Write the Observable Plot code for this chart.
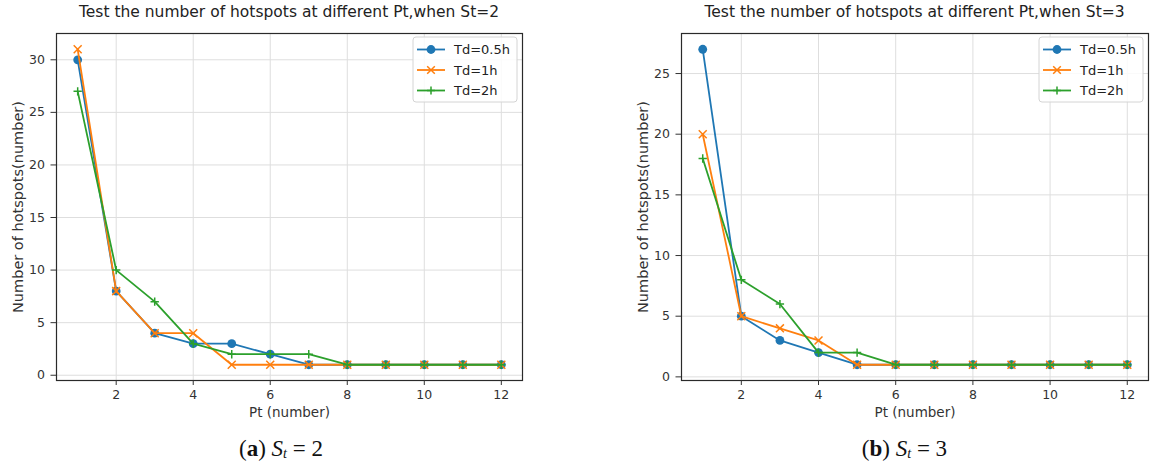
<!DOCTYPE html>
<html>
<head>
<meta charset="utf-8">
<script src="https://cdn.jsdelivr.net/npm/d3@7"></script>
<script src="https://cdn.jsdelivr.net/npm/@observablehq/plot@0.6"></script>
<style>
  html, body { margin: 0; padding: 0; background: #fff; }
  #root { position: relative; width: 1150px; height: 468px; overflow: hidden; background: #fff; font-family: "DejaVu Sans", sans-serif; }
  .panel { position: absolute; top: 0; }
  .title { position: absolute; top: 3px; font-size: 15.5px; color: #222; white-space: nowrap; transform: translateX(-50%); }
  .caption { position: absolute; top: 436px; font-family: "Liberation Serif", "DejaVu Serif", serif; font-size: 23px; line-height: 26px; color: #111; white-space: nowrap; transform: translateX(-50%); }
  .caption i sub { font-size: 14px; vertical-align: -2px; }
</style>
</head>
<body>
<div id="root"></div>
<script>
// ---- data ----
const pt = [1, 2, 3, 4, 5, 6, 7, 8, 9, 10, 11, 12];
const seriesNames = ["Td=0.5h", "Td=1h", "Td=2h"];
const colors = ["#1f77b4", "#ff7f0e", "#2ca02c"];
const symbols = ["circle", "times", "plus"];

// St = 2
const st2_td05 = [30, 8, 4, 3, 3, 2, 1, 1, 1, 1, 1, 1];
const st2_td1  = [31, 8, 4, 4, 1, 1, 1, 1, 1, 1, 1, 1];
const st2_td2  = [27, 10, 7, 3, 2, 2, 2, 1, 1, 1, 1, 1];
// St = 3
const st3_td05 = [27, 5, 3, 2, 1, 1, 1, 1, 1, 1, 1, 1];
const st3_td1  = [20, 5, 4, 3, 1, 1, 1, 1, 1, 1, 1, 1];
const st3_td2  = [18, 8, 6, 2, 2, 1, 1, 1, 1, 1, 1, 1];

const xTicks = [2, 4, 6, 8, 10, 12];
const yTicksA = [0, 5, 10, 15, 20, 25, 30];
const yTicksB = [0, 5, 10, 15, 20, 25];

const root = document.getElementById("root");

function panel(left, marginLeft, marginRight, vals, yDomain, yTicks, title, capHTML, capShift) {
  const rows = [];
  vals.forEach((arr, s) => arr.forEach((v, i) => rows.push({pt: pt[i], v, s: seriesNames[s]})));
  const W = 575, H = 430;
  const marks = [
    Plot.gridX(xTicks, {stroke: "#dedede", strokeOpacity: 1}),
    Plot.gridY(yTicks, {stroke: "#dedede", strokeOpacity: 1}),
  ];
  seriesNames.forEach((name, s) => {
    const d = rows.filter(r => r.s === name);
    marks.push(Plot.line(d, {x: "pt", y: "v", stroke: colors[s], strokeWidth: 1.8}));
    if (symbols[s] === "circle") {
      marks.push(Plot.dot(d, {x: "pt", y: "v", fill: colors[s], r: 4.4, symbol: "circle"}));
    } else if (symbols[s] === "times") {
      marks.push(Plot.dot(d, {x: "pt", y: "v", stroke: colors[s], r: 3.7, strokeWidth: 1.5, symbol: "times"}));
    } else {
      marks.push(Plot.dot(d, {x: "pt", y: "v", stroke: colors[s], r: 2.8, strokeWidth: 1.5, symbol: "plus"}));
    }
  });
  marks.push(Plot.frame({stroke: "#2a2a2a", strokeWidth: 1.2}));
  marks.push(Plot.axisX(xTicks, {tickSize: 5, tickPadding: 5, label: "Pt (number)", labelAnchor: "center", labelArrow: "none", labelOffset: 36, color: "#333"}));
  marks.push(Plot.axisY(yTicks, {tickSize: 5.5, tickPadding: 6, label: "Number of hotspots(number)", labelAnchor: "center", labelArrow: "none", labelOffset: 44, color: "#333"}));

  const chart = Plot.plot({
    width: W, height: H,
    marginLeft, marginRight, marginTop: 33, marginBottom: 50,
    style: {fontFamily: "DejaVu Sans, sans-serif", fontSize: "12px", color: "#333", background: "transparent", overflow: "visible"},
    x: {domain: [0.45, 12.55]},
    y: {domain: yDomain},
    marks
  });
  const svg = d3.select(chart);
  svg.selectAll('g[aria-label="x-axis tick label"], g[aria-label="y-axis tick label"]').attr("font-size", 12.5);
  svg.selectAll('g[aria-label="x-axis label"]').attr("font-size", 13.5);
  svg.selectAll('g[aria-label="y-axis label"]').attr("font-size", 14.5);

  const wrap = document.createElement("div");
  wrap.className = "panel";
  wrap.style.left = left + "px";
  wrap.appendChild(chart);
  root.appendChild(wrap);

  // legend (matplotlib-style box, upper right)
  const frameRight = W - marginRight;
  const bw = 104, bh = 65;
  const bx = frameRight - 5 - bw, by = 37;
  const g = svg.append("g").attr("text-anchor", "start");
  g.append("rect").attr("x", bx).attr("y", by).attr("width", bw).attr("height", bh)
    .attr("rx", 3).attr("fill", "#fff").attr("fill-opacity", 0.85).attr("stroke", "#d4d4d4");
  seriesNames.forEach((name, s) => {
    const cy = by + 12.5 + s * 20.5;
    g.append("line").attr("x1", bx + 4).attr("x2", bx + 32).attr("y1", cy).attr("y2", cy)
      .attr("stroke", colors[s]).attr("stroke-width", 1.8);
    const mx = bx + 18;
    if (s === 0) g.append("circle").attr("cx", mx).attr("cy", cy).attr("r", 4.4).attr("fill", colors[s]);
    else if (s === 1) g.append("path").attr("d", `M${mx-3.8},${cy-3.8}L${mx+3.8},${cy+3.8}M${mx-3.8},${cy+3.8}L${mx+3.8},${cy-3.8}`).attr("stroke", colors[s]).attr("stroke-width", 1.5);
    else g.append("path").attr("d", `M${mx-4},${cy}L${mx+4},${cy}M${mx},${cy-4}L${mx},${cy+4}`).attr("stroke", colors[s]).attr("stroke-width", 1.5);
    g.append("text").attr("x", bx + 41).attr("y", cy).attr("dy", "0.35em")
      .attr("font-size", 13).attr("fill", "#222").text(name);
  });

  const t = document.createElement("div");
  t.className = "title";
  t.style.left = (left + marginLeft + (W - marginLeft - marginRight) / 2) + "px";
  t.textContent = title;
  root.appendChild(t);

  const c = document.createElement("div");
  c.className = "caption";
  c.style.left = (left + marginLeft + (W - marginLeft - marginRight) / 2 + capShift) + "px";
  c.innerHTML = capHTML;
  root.appendChild(c);
}

panel(0, 56, 53, [st2_td05, st2_td1, st2_td2], [-0.5, 32.5], yTicksA,
  "Test the number of hotspots at different Pt,when St=2",
  "(<b>a</b>) <i>S<sub>t</sub></i> = 2", -8);
panel(575, 106, 2, [st3_td05, st3_td1, st3_td2], [-0.3, 28.3], yTicksB,
  "Test the number of hotspots at different Pt,when St=3",
  "(<b>b</b>) <i>S<sub>t</sub></i> = 3", -10);
</script>
</body>
</html>
